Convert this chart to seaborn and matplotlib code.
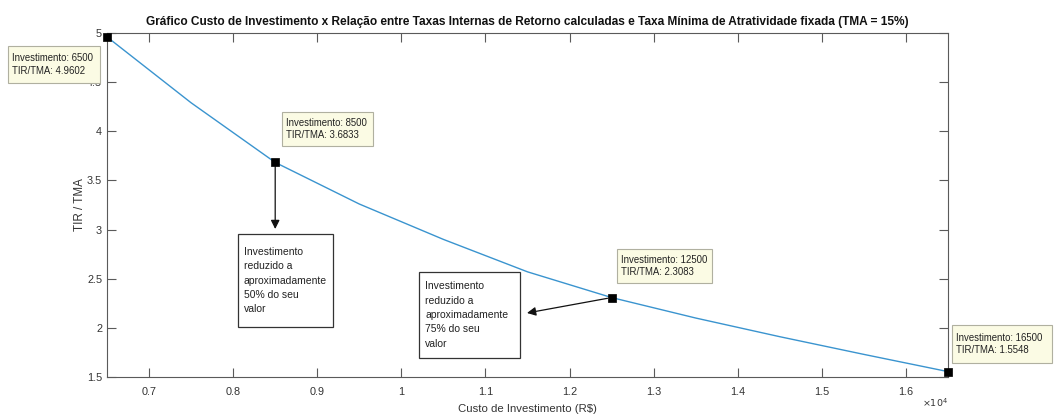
import matplotlib
matplotlib.use("Agg")
import matplotlib.pyplot as plt
from matplotlib.patches import Rectangle
from matplotlib.transforms import Affine2D
from matplotlib.ticker import FixedLocator, FuncFormatter
import seaborn as sns
import pandas as pd

# Investment cost (R$) and ratio IRR / minimum attractive rate (TMA = 15%)
investimento = [6500, 7500, 8500, 9500, 10500, 11500, 12500, 13500, 14500, 15500, 16500]
tir_tma = [4.9602, 4.29, 3.6833, 3.26, 2.90, 2.57, 2.3083, 2.10, 1.91, 1.73, 1.5548]

# Highlighted data tips
tip_x = [6500, 8500, 12500, 16500]
tip_y = [4.9602, 3.6833, 2.3083, 1.5548]

x_ticks = [7000, 8000, 9000, 10000, 11000, 12000, 13000, 14000, 15000, 16000]
y_ticks = [1.5, 2, 2.5, 3, 3.5, 4, 4.5, 5]

titulo = ("Gráfico Custo de Investimento x Relação entre Taxas Internas de Retorno "
          "calculadas e Taxa Mínima de Atratividade fixada (TMA = 15%)")
nota_50 = "Investimento\nreduzido a\naproximadamente\n50% do seu\nvalor"
nota_75 = "Investimento\nreduzido a\naproximadamente\n75% do seu\nvalor"

sns.set_theme(style="white")
plt.rcParams["font.family"] = ["Liberation Sans", "DejaVu Sans"]

W, H = 1054, 419
fig = plt.figure(figsize=(W / 100, H / 100), dpi=100)
fig.patch.set_facecolor("white")

# axes box in pixels: left 107, right 948, top 33, bottom 377
L, R, T, B = 107, 948, 33, 377
ax = fig.add_axes([L / W, 1 - B / H, (R - L) / W, (B - T) / H])

# pixel transform measured from the top-left corner of the figure
px = Affine2D().scale(1 / W, -1 / H).translate(0, 1) + fig.transFigure

df = pd.DataFrame({"Investimento": investimento, "TIR/TMA": tir_tma})
sns.lineplot(data=df, x="Investimento", y="TIR/TMA", ax=ax,
             color="#3a94cf", linewidth=1.0)
sns.scatterplot(x=tip_x, y=tip_y, ax=ax, marker="s", s=32, color="black",
                edgecolor="black", linewidth=0.5, zorder=6, clip_on=False)

ax.set_xlim(6500, 16500)
ax.set_ylim(1.5, 5)
ax.xaxis.set_major_locator(FixedLocator(x_ticks))
ax.yaxis.set_major_locator(FixedLocator(y_ticks))
ax.xaxis.set_major_formatter(FuncFormatter(lambda v, p: f"{v / 1e4:g}"))
ax.yaxis.set_major_formatter(FuncFormatter(lambda v, p: f"{v:g}"))

axis_col = "#5a5a5a"
text_col = "#333333"
for s in ax.spines.values():
    s.set_color(axis_col)
    s.set_linewidth(0.8)
    s.set_visible(True)
ax.tick_params(axis="both", which="major", direction="in", length=6.5,
               width=0.8, color=axis_col, labelcolor=text_col,
               labelsize=7.8, top=True, right=True, bottom=True, left=True)
ax.tick_params(axis="x", pad=7)
ax.tick_params(axis="y", pad=3.5)

ax.set_title(titulo, fontsize=8.55, fontweight="bold", color="#111111", pad=6)
ax.set_xlabel("Custo de Investimento (R$)", fontsize=8.2, color=text_col)
ax.set_ylabel("TIR / TMA", fontsize=8.4, color=text_col)
ax.xaxis.set_label_coords(0.5, (B - 404) / (B - T))
ax.yaxis.set_label_coords((86 - L) / (R - L), 0.5)

fig.text(935 / W, 1 - 403 / H, r"$\times10^{4}$", fontsize=6.8,
         color=text_col, ha="center", va="center")

# data tip boxes (left, top, right, bottom in pixels)
tip_boxes = [(8, 46, 100, 83), (282, 112, 373, 146),
             (617, 249, 712, 283), (952, 325, 1052, 363)]
for (x0, y0, x1, y1), xv, yv in zip(tip_boxes, tip_x, tip_y):
    fig.add_artist(Rectangle((x0, y0), x1 - x0, y1 - y0, transform=px,
                             facecolor="#fbfbe4", edgecolor="#b0b0a0",
                             linewidth=0.8, zorder=4))
    fig.text(x0 + 4, (y0 + y1) / 2, f"Investimento: {xv}\nTIR/TMA: {yv:.4f}",
             transform=px, ha="left", va="center", fontsize=6.95,
             color="#222222", linespacing=1.35, zorder=5)

# annotation boxes
note_boxes = [((238, 234, 333, 327), nota_50), ((419, 272, 520, 358), nota_75)]
for (x0, y0, x1, y1), txt in note_boxes:
    fig.add_artist(Rectangle((x0, y0), x1 - x0, y1 - y0, transform=px,
                             facecolor="white", edgecolor="#333333",
                             linewidth=0.9, zorder=4))
    fig.text(x0 + 6, (y0 + y1) / 2, txt, transform=px, ha="left",
             va="center", fontsize=7.5, color="#222222",
             linespacing=1.55, zorder=5)

arrow_style = dict(arrowstyle="-|>", color="#111111", lw=0.9,
                   mutation_scale=13, shrinkA=3, shrinkB=0)
ax.annotate("", xy=(tip_x[1], 229), xycoords=(ax.transData, px),
            xytext=(tip_x[1], tip_y[1]), textcoords="data",
            arrowprops=arrow_style, annotation_clip=False)
ax.annotate("", xy=(527, 313), xycoords=px, xytext=(tip_x[2], tip_y[2]),
            textcoords="data", arrowprops=arrow_style, annotation_clip=False)

fig.savefig("out.png", dpi=100, facecolor="white")
